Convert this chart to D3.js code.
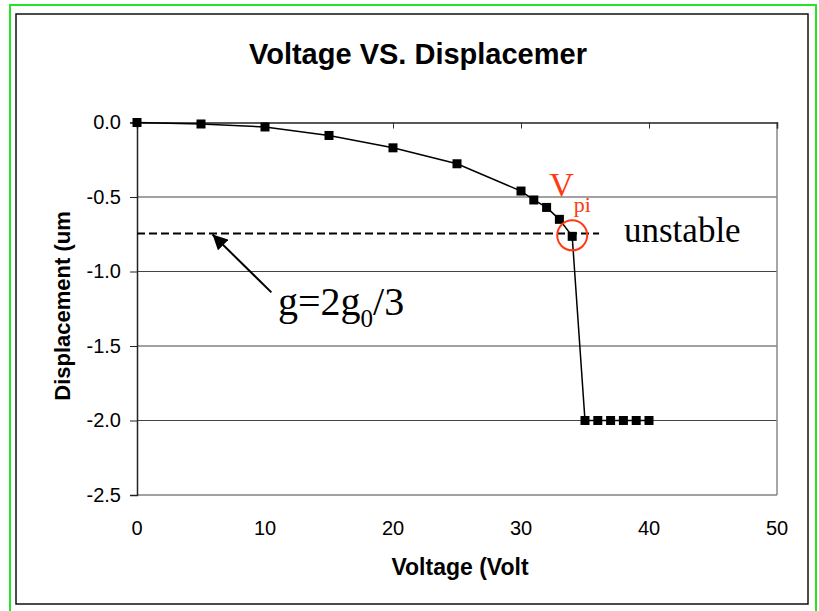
<!DOCTYPE html>
<html>
<head>
<meta charset="utf-8">
<script src="https://cdn.jsdelivr.net/npm/d3@7"></script>
<style>
  body { margin: 0; background: #fff; }
  text { font-family: "Liberation Sans", Arial, sans-serif; }
  .serif { font-family: "Liberation Serif", "Times New Roman", serif; }
</style>
</head>
<body>
<div id="chart"></div>
<script>
// data
const voltage = [0, 5, 10, 15, 20, 25, 30, 31, 32, 33, 34, 35, 36, 37, 38, 39, 40];
const displacement = [0, -0.01, -0.03, -0.087, -0.17, -0.277, -0.46, -0.52, -0.57, -0.65, -0.764, -2.0, -2.0, -2.0, -2.0, -2.0, -2.0];
const xTicks = [0, 10, 20, 30, 40, 50];
const yTicks = [0, -0.5, -1.0, -1.5, -2.0, -2.5];
const gLevel = -0.745;   // g = 2g0/3
const pullIn = 34;       // V_pi

const W = 819, H = 611;
const svg = d3.select("#chart").append("svg")
    .attr("width", W).attr("height", H);

// outer frames
svg.append("rect").attr("x", 10).attr("y", 5).attr("width", 806).attr("height", 610)
    .attr("fill", "none").attr("stroke", "#22e622").attr("stroke-width", 2);
svg.append("rect").attr("x", 16).attr("y", 14).attr("width", 792).attr("height", 590)
    .attr("fill", "#fff").attr("stroke", "#111").attr("stroke-width", 1.5);

const xScale = d3.scaleLinear().domain([0, 50]).range([137, 777]);
const yScale = d3.scaleLinear().domain([0, -2.5]).range([122.5, 495]);

// title (clipped in the original)
svg.append("text").attr("x", 249).attr("y", 64)
    .attr("font-size", 29).attr("font-weight", "bold")
    .text("Voltage VS. Displacemer");

// gridlines
svg.append("g").selectAll("line").data(yTicks.slice(1)).join("line")
    .attr("x1", xScale(0)).attr("x2", xScale(50))
    .attr("y1", d => yScale(d)).attr("y2", d => yScale(d))
    .attr("stroke", "#444").attr("stroke-width", 1.2);

// right border
svg.append("line").attr("x1", xScale(50)).attr("x2", xScale(50))
    .attr("y1", yScale(0)).attr("y2", yScale(-2.5))
    .attr("stroke", "#888").attr("stroke-width", 1.5);

// x axis sits at y=0 (top) with inside ticks, labels low
const xAxis = d3.axisBottom(xScale).tickValues(xTicks).tickSize(6).tickFormat("");
const gx = svg.append("g").attr("transform", `translate(0,${yScale(0)})`).call(xAxis);
gx.select(".domain").attr("stroke", "#222").attr("stroke-width", 1.5);
gx.selectAll(".tick line").attr("stroke", "#333");

svg.append("g").selectAll("text").data(xTicks).join("text")
    .attr("x", d => xScale(d)).attr("y", 528)
    .attr("text-anchor", "middle").attr("dominant-baseline", "central")
    .attr("font-size", 20)
    .text(d => d);

// y axis
const yAxis = d3.axisLeft(yScale).tickValues(yTicks).tickSize(7).tickPadding(9)
    .tickFormat(d => d.toFixed(1));
const gy = svg.append("g").attr("transform", `translate(${xScale(0)},0)`).call(yAxis);
gy.select(".domain").attr("stroke", "#222").attr("stroke-width", 1.5);
gy.selectAll(".tick line").attr("stroke", "#222");
gy.selectAll(".tick text").attr("font-size", 20).attr("fill", "#000")
    .attr("font-family", "Liberation Sans, Arial, sans-serif");

// axis titles
svg.append("text").attr("x", 460).attr("y", 575)
    .attr("text-anchor", "middle").attr("font-size", 23).attr("font-weight", "bold")
    .text("Voltage (Volt");
svg.append("text").attr("transform", "translate(70,306) rotate(-90)")
    .attr("text-anchor", "middle").attr("font-size", 22).attr("font-weight", "bold")
    .text("Displacement (um");

// dashed level line
svg.append("line")
    .attr("x1", xScale(0)).attr("x2", xScale(36.1))
    .attr("y1", yScale(gLevel)).attr("y2", yScale(gLevel))
    .attr("stroke", "#000").attr("stroke-width", 2).attr("stroke-dasharray", "8,4");

// data line and markers
const points = voltage.map((v, i) => ({v, d: displacement[i]}));
svg.append("path").datum(points)
    .attr("fill", "none").attr("stroke", "#000").attr("stroke-width", 1.5)
    .attr("d", d3.line().x(p => xScale(p.v)).y(p => yScale(p.d)));

svg.append("g").selectAll("rect").data(points).join("rect")
    .attr("x", p => xScale(p.v) - 4.5).attr("y", p => yScale(p.d) - 4.5)
    .attr("width", 9).attr("height", 9).attr("fill", "#000");

// pull-in annotation
const red = "#ff3a12";
const vpi = points.find(p => p.v === pullIn);
svg.append("circle").attr("cx", xScale(vpi.v)).attr("cy", yScale(vpi.d) - 1)
    .attr("r", 15).attr("fill", "none").attr("stroke", red).attr("stroke-width", 2);

const vt = svg.append("text").attr("class", "serif").attr("fill", red)
    .attr("x", xScale(pullIn) - 23).attr("y", 196).attr("font-size", 34);
vt.append("tspan").text("V");
vt.append("tspan").attr("font-size", 22).attr("dy", 16).text("pi");

svg.append("text").attr("class", "serif")
    .attr("x", 624).attr("y", 242).attr("font-size", 35)
    .text("unstable");

// g = 2g0/3 label with arrow
const gt = svg.append("text").attr("class", "serif")
    .attr("x", 278).attr("y", 315).attr("font-size", 40);
gt.append("tspan").text("g=2g");
gt.append("tspan").attr("font-size", 25).attr("dy", 12).text("0");
gt.append("tspan").attr("dy", -12).text("/3");

svg.append("defs").append("marker")
    .attr("id", "arrow").attr("viewBox", "0 0 10 10")
    .attr("refX", 10).attr("refY", 5)
    .attr("markerWidth", 15).attr("markerHeight", 15)
    .attr("markerUnits", "userSpaceOnUse")
    .attr("orient", "auto")
    .append("path").attr("d", "M0,0 L10,5 L0,10 Z").attr("fill", "#000");

svg.append("line")
    .attr("x1", xScale(10.5)).attr("y1", yScale(-1.14))
    .attr("x2", xScale(5.9)).attr("y2", yScale(gLevel) + 1)
    .attr("stroke", "#000").attr("stroke-width", 2)
    .attr("marker-end", "url(#arrow)");
</script>
</body>
</html>
